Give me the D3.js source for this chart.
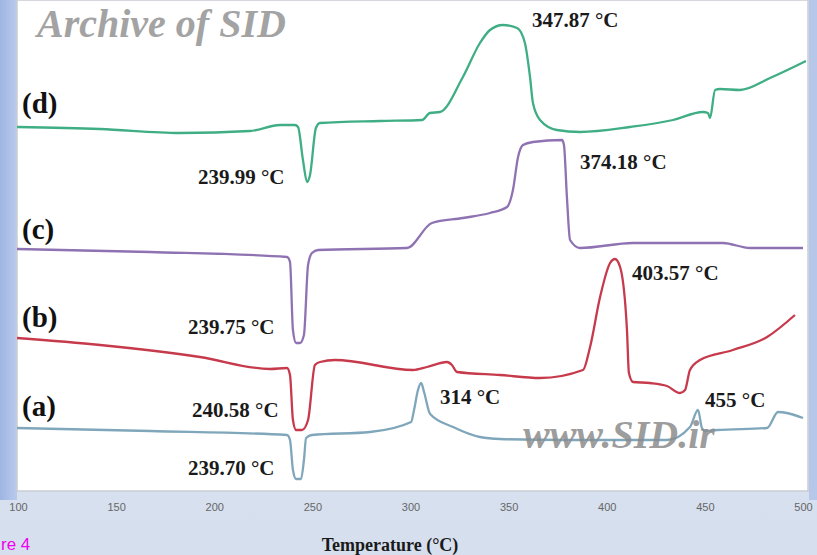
<!DOCTYPE html>
<html>
<head>
<meta charset="utf-8">
<script src="https://cdn.jsdelivr.net/npm/d3@7"></script>
<style>
  html, body { margin: 0; padding: 0; background: #dfe6f2; }
  svg { display: block; }
</style>
</head>
<body>
<svg id="chart" width="817" height="555"></svg>
<script>
// ---- Data (temperature °C, heat flow a.u.) ----
const tickValues = [100, 150, 200, 250, 300, 350, 400, 450, 500];

const seriesA = [ // (a) blue
  [99.5,63],[167.3,60],[237.1,56],[238.6,51],[240.1,21],[241.7,12],[244.2,12],[245.7,31],[246.8,53],
  [249.8,56],[279.4,59],[300.3,69],[301.8,81],[303.8,101],[305.4,108],[306.9,99],[310.0,77],
  [321.7,64],[335.4,54],[345.6,52],[379.7,51],[430.7,51],[442.4,64],[446.5,81],[448.5,63],
  [450.1,60],[456.2,61],[481.7,63],[487.3,79],[491.8,78],[500,73]
];
const seriesB = [ // (b) red
  [99.5,153],[141.8,146],[192.7,134],[228.4,122],[237.1,123],[238.6,116],[240.1,71],[241.7,61],
  [244.7,61],[247.8,71],[251.3,126],[253.9,129],[261.5,131],[301.3,121],[308.4,124],[318.6,129],
  [321.1,126],[323.7,119],[345.6,116],[366.0,113],[387.9,121],[391.5,144],[396.6,194],[401.7,228],
  [404.2,232],[406.8,224],[410.3,161],[411.3,118],[413.4,109],[422.0,108],[430.7,105],[437.3,98],
  [439.9,101],[442.4,121],[447.5,131],[464.3,141],[481.7,154],[495.9,176]
];
const seriesC = [ // (c) purple
  [99.5,242],[167.3,239],[237.1,234],[238.6,229],[240.1,161],[241.7,148],[243.7,148],[245.7,156],
  [247.8,226],[249.8,238],[252.9,241],[298.2,243],[310.9,268],[326.7,273],[340.5,278],[349.2,284],
  [352.2,301],[354.8,334],[357.3,346],[362.4,349],[377.2,351],[378.2,346],[379.7,294],[381.3,251],
  [386.4,243],[413.4,248],[459.2,248],[473.0,243],[500,243]
];
const seriesD = [ // (d) green
  [99.5,364],[141.8,362],[182.5,358],[218.2,360],[233.5,366],[241.1,366],[242.7,364],[245.2,331],
  [247.3,309],[248.8,316],[251.8,363],[253.9,368],[284.5,370],[305.9,371],[309.9,378],[315.0,379],
  [326.7,414],[335.4,448],[340.5,461],[347.1,466],[354.3,463],[358.3,448],[360.9,414],[362.4,388],
  [366.0,371],[374.6,361],[386.4,359],[411.8,364],[433.8,371],[449.0,379],[451.6,378],[452.6,373],
  [455.2,401],[457.7,402],[467.9,401],[483.2,413],[501.5,430]
];

const seriesNames = ["(a)", "(b)", "(c)", "(d)"];
const seriesColors = ["#7fa6ba", "#c63a4c", "#8e72b2", "#3fae84"];
const seriesData = [seriesA, seriesB, seriesC, seriesD];

const peakLabels = [
  {text: "239.70 °C", t: 186.6, v: 16},
  {text: "240.58 °C", t: 188.7, v: 74},
  {text: "314 °C",    t: 315.0, v: 87},
  {text: "455 °C",    t: 450.1, v: 84},
  {text: "239.75 °C", t: 186.6, v: 157},
  {text: "403.57 °C", t: 412.9, v: 211},
  {text: "239.99 °C", t: 191.7, v: 307},
  {text: "374.18 °C", t: 386.4, v: 322},
  {text: "347.87 °C", t: 361.9, v: 464}
];
const panelLabelV = [75, 164, 252, 378];

// ---- Layout ----
const svg = d3.select("#chart");
const W = 817, H = 555;
const plot = {x0: 17, x1: 808, y0: 0, y1: 491};

const x = d3.scaleLinear().domain([100, 500]).range([18, 803]);
const y = d3.scaleLinear().domain([0, 491]).range([491, 0]);

// background pieces
const defs = svg.append("defs");
const lg = defs.append("linearGradient").attr("id", "leftgrad").attr("x1", "0").attr("x2", "1");
lg.append("stop").attr("offset", "0").attr("stop-color", "#9fb5e2");
lg.append("stop").attr("offset", "1").attr("stop-color", "#b9caec");
const bg = defs.append("linearGradient").attr("id", "botgrad").attr("x1", "0").attr("x2", "0").attr("y1", "0").attr("y2", "1");
bg.append("stop").attr("offset", "0").attr("stop-color", "#e3e9f4");
bg.append("stop").attr("offset", "1").attr("stop-color", "#d6dfee");

svg.append("rect").attr("x", 0).attr("y", 0).attr("width", W).attr("height", H).attr("fill", "url(#botgrad)");
svg.append("rect").attr("x", 0).attr("y", 0).attr("width", plot.x0).attr("height", 500).attr("fill", "url(#leftgrad)");
svg.append("rect").attr("x", plot.x1 + 1).attr("y", 0).attr("width", W - plot.x1 - 1).attr("height", 500).attr("fill", "#b7c7ea");

svg.append("rect")
  .attr("x", plot.x0).attr("y", plot.y0)
  .attr("width", plot.x1 - plot.x0).attr("height", plot.y1 - plot.y0)
  .attr("fill", "#ffffff").attr("stroke", "#c9ccd2").attr("stroke-width", 1.5);

defs.append("clipPath").attr("id", "clip").append("rect")
  .attr("x", plot.x0).attr("y", plot.y0)
  .attr("width", plot.x1 - plot.x0).attr("height", plot.y1 - plot.y0);

// watermark top
svg.append("text")
  .attr("x", 37).attr("y", 37)
  .attr("font-family", "Liberation Serif, serif")
  .attr("font-weight", "bold").attr("font-style", "italic")
  .attr("font-size", 40).attr("fill", "#a3a3a3")
  .text("Archive of SID");

// curves
const line = d3.line().x(d => x(d[0])).y(d => y(d[1])).curve(d3.curveMonotoneX);
const g = svg.append("g").attr("clip-path", "url(#clip)");
seriesData.forEach((s, i) => {
  g.append("path")
    .datum(s)
    .attr("d", line)
    .attr("fill", "none")
    .attr("stroke", seriesColors[i])
    .attr("stroke-width", 2.3)
    .attr("stroke-linejoin", "round");
});

// panel labels
seriesNames.forEach((n, i) => {
  svg.append("text")
    .attr("x", 22).attr("y", y(panelLabelV[i]))
    .attr("font-family", "Liberation Serif, serif")
    .attr("font-weight", "bold").attr("font-size", 29)
    .attr("fill", "#111")
    .text(n);
});

// peak labels
peakLabels.forEach(p => {
  svg.append("text")
    .attr("x", x(p.t)).attr("y", y(p.v))
    .attr("font-family", "Liberation Serif, serif")
    .attr("font-weight", "bold").attr("font-size", 21)
    .attr("fill", "#1a1a1a")
    .text(p.text);
});

// watermark lower
svg.append("text")
  .attr("x", 523).attr("y", 448)
  .attr("font-family", "Liberation Serif, serif")
  .attr("font-weight", "bold").attr("font-style", "italic")
  .attr("font-size", 40).attr("fill", "#8c8c8c").attr("fill-opacity", 0.85)
  .text("www.SID.ir");

// x axis
const axis = d3.axisBottom(x).tickValues(tickValues).tickSize(0).tickPadding(4).tickFormat(d3.format("d"));
const ag = svg.append("g").attr("transform", "translate(0,499)").call(axis);
ag.select(".domain").remove();
ag.selectAll("text")
  .attr("font-family", "Liberation Sans, sans-serif")
  .attr("font-size", 11).attr("fill", "#666");

// axis title
svg.append("text")
  .attr("x", 390).attr("y", 551)
  .attr("text-anchor", "middle")
  .attr("font-family", "Liberation Serif, serif")
  .attr("font-weight", "bold").attr("font-size", 18)
  .attr("fill", "#1a1a1a")
  .text("Temperature (°C)");

// caption fragment (visible part of the cropped caption)
svg.append("text")
  .attr("x", 1).attr("y", 550)
  .attr("font-family", "Liberation Sans, sans-serif")
  .attr("font-size", 17).attr("fill", "#f000f0")
  .text("re 4");
</script>
</body>
</html>
